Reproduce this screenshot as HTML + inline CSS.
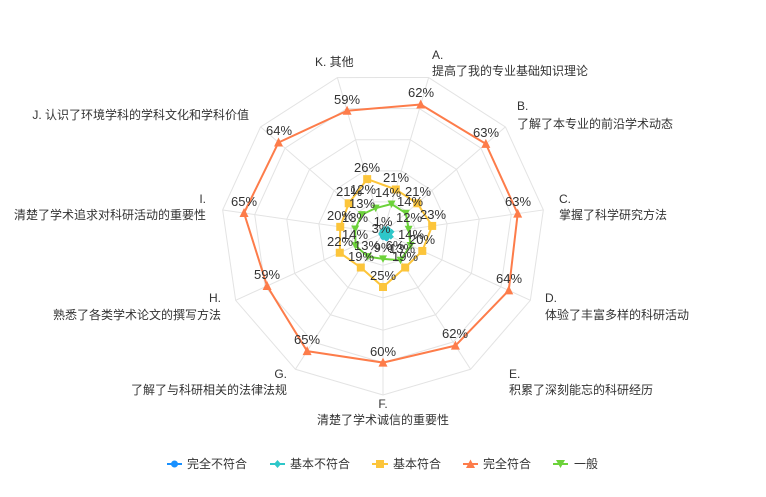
<!DOCTYPE html>
<html><head><meta charset="utf-8">
<style>
html,body{margin:0;padding:0;background:#fff;}
svg{display:block;font-family:"Liberation Sans","Noto Sans CJK SC",sans-serif;}
.n{font-size:12px;fill:#333;}
.v{font-size:13px;fill:#333;text-anchor:middle;}
.lg{font-size:12px;fill:#333;}
</style></head><body>
<svg id="s" width="766" height="497" viewBox="0 0 766 497" xmlns="http://www.w3.org/2000/svg">
<g id="grid"></g>
<g id="series"></g>
<g id="labels">
<text class="v" x="421" y="97">62%</text>
<text class="v" x="486" y="137">63%</text>
<text class="v" x="518" y="206">63%</text>
<text class="v" x="509" y="283">64%</text>
<text class="v" x="455" y="338">62%</text>
<text class="v" x="383" y="356">60%</text>
<text class="v" x="307" y="344">65%</text>
<text class="v" x="267" y="279">59%</text>
<text class="v" x="244" y="206">65%</text>
<text class="v" x="279" y="135">64%</text>
<text class="v" x="347" y="104">59%</text>
<text class="v" x="396" y="182">21%</text>
<text class="v" x="418" y="196">21%</text>
<text class="v" x="433" y="219">23%</text>
<text class="v" x="422" y="244">20%</text>
<text class="v" x="405" y="261">19%</text>
<text class="v" x="383" y="280">25%</text>
<text class="v" x="361" y="261">19%</text>
<text class="v" x="340" y="246">22%</text>
<text class="v" x="340" y="220">20%</text>
<text class="v" x="349" y="196">21%</text>
<text class="v" x="367" y="172">26%</text>
<text class="v" x="388" y="197">14%</text>
<text class="v" x="410" y="206">14%</text>
<text class="v" x="409" y="222">12%</text>
<text class="v" x="411" y="239">14%</text>
<text class="v" x="402" y="253">13%</text>
<text class="v" x="383" y="252">9%</text>
<text class="v" x="367" y="250">13%</text>
<text class="v" x="355" y="239">14%</text>
<text class="v" x="355" y="222">13%</text>
<text class="v" x="362" y="208">13%</text>
<text class="v" x="363" y="194">12%</text>
<text class="v" x="383" y="226">1%</text>
<text class="v" x="381" y="233">3%</text>
<text class="v" x="395" y="250">6%</text>
</g>
<g id="names">
<text class="n" x="315" y="66">K. 其他</text>
<text class="n" x="432" y="59">A.</text>
<text class="n" x="432" y="75">提高了我的专业基础知识理论</text>
<text class="n" x="517" y="110">B.</text>
<text class="n" x="517" y="128">了解了本专业的前沿学术动态</text>
<text class="n" x="559" y="203">C.</text>
<text class="n" x="559" y="219">掌握了科学研究方法</text>
<text class="n" x="545" y="302">D.</text>
<text class="n" x="545" y="319">体验了丰富多样的科研活动</text>
<text class="n" x="509" y="378">E.</text>
<text class="n" x="509" y="394">积累了深刻能忘的科研经历</text>
<text class="n" x="383" y="408" text-anchor="middle">F.</text>
<text class="n" x="383" y="424" text-anchor="middle">清楚了学术诚信的重要性</text>
<text class="n" x="287" y="378" text-anchor="end">G.</text>
<text class="n" x="287" y="394" text-anchor="end">了解了与科研相关的法律法规</text>
<text class="n" x="221" y="302" text-anchor="end">H.</text>
<text class="n" x="221" y="319" text-anchor="end">熟悉了各类学术论文的撰写方法</text>
<text class="n" x="206" y="203" text-anchor="end">I.</text>
<text class="n" x="206" y="219" text-anchor="end">清楚了学术追求对科研活动的重要性</text>
<text class="n" x="249" y="119" text-anchor="end">J. 认识了环境学科的学科文化和学科价值</text>
</g>
<g id="legend">
<line x1="167" y1="464" x2="182" y2="464" stroke="#1890ff" stroke-width="2"/><circle cx="174.5" cy="464" r="3.5" fill="#1890ff"/>
<text class="lg" x="187" y="468">完全不符合</text>
<line x1="270" y1="464" x2="285" y2="464" stroke="#2ec7c9" stroke-width="2"/><path d="M277.5 460 L281 464 L277.5 468 L274 464Z" fill="#2ec7c9"/>
<text class="lg" x="290" y="468">基本不符合</text>
<line x1="372" y1="464" x2="388" y2="464" stroke="#fcc53b" stroke-width="2"/><rect x="376" y="460" width="8" height="8" fill="#fcc53b"/>
<text class="lg" x="393" y="468">基本符合</text>
<line x1="463" y1="464" x2="478" y2="464" stroke="#fd7c4a" stroke-width="2"/><path d="M470.5 459.5 L475 468 L466 468Z" fill="#fd7c4a"/>
<text class="lg" x="483" y="468">完全符合</text>
<line x1="553" y1="464" x2="568" y2="464" stroke="#6cd23a" stroke-width="2"/><path d="M556 460 L565 460 L560.5 468Z" fill="#6cd23a"/>
<text class="lg" x="574" y="468">一般</text>
</g>
</svg>
<script>
(function(){
var NS="http://www.w3.org/2000/svg",cx=383,cy=233,R=162,MAX=75,N=11;
function ang(i){return (73.64-i*360/N)*Math.PI/180;}
function pt(i,r){return [cx+r*Math.cos(ang(i)),cy-r*Math.sin(ang(i))];}
function el(t,a,p){var e=document.createElementNS(NS,t);for(var k in a)e.setAttribute(k,a[k]);p.appendChild(e);return e;}
var g=document.getElementById('grid');
for(var l=1;l<=5;l++){var ps=[];for(var i=0;i<N;i++){ps.push(pt(i,R*l/5).join(','));}
el('polygon',{points:ps.join(' '),fill:'none',stroke:'#e3e3e3','stroke-width':1},g);}
for(var i=0;i<N;i++){var p=pt(i,R);el('line',{x1:cx,y1:cy,x2:p[0],y2:p[1],stroke:'#e3e3e3','stroke-width':1},g);}
var s=document.getElementById('series');
var data=[
{c:'#1890ff',v:[1,2,3,3,3,2,1,0.5,0.5,0.5,0.5],m:'circle'},
{c:'#2ec7c9',v:[2,3,4,4,3,2,1,1,0.5,0.5,1],m:'diamond'},
{c:'#6cd23a',v:[14,14,12,14,15,12,13,14,13,13,12],m:'tdown'},
{c:'#fcc53b',v:[21,21,23,20,19,25,19,22,20,21,26],m:'square'},
{c:'#fd7c4a',v:[62,63,63,64,62,60,65,59,65,64,59],m:'tup'}];
data.forEach(function(d){
 var ps=d.v.map(function(v,i){return pt(i,v/MAX*R);});
 el('polygon',{points:ps.map(function(p){return p.join(',')}).join(' '),fill:(d.m=='circle'||d.m=='diamond')?d.c:'none',stroke:d.c,'stroke-width':2,'stroke-linejoin':'round'},s);
 ps.forEach(function(p){var x=p[0],y=p[1];
  if(d.m=='circle')el('circle',{cx:x,cy:y,r:2.5,fill:d.c},s);
  else if(d.m=='diamond')el('path',{d:'M'+x+' '+(y-3)+'L'+(x+3)+' '+y+'L'+x+' '+(y+3)+'L'+(x-3)+' '+y+'Z',fill:d.c},s);
  else if(d.m=='square')el('rect',{x:x-4,y:y-4,width:8,height:8,fill:d.c},s);
  else if(d.m=='tup')el('path',{d:'M'+x+' '+(y-5)+'L'+(x+4.5)+' '+(y+4)+'L'+(x-4.5)+' '+(y+4)+'Z',fill:d.c},s);
  else el('path',{d:'M'+(x-4)+' '+(y-3.5)+'L'+(x+4)+' '+(y-3.5)+'L'+x+' '+(y+4)+'Z',fill:d.c},s);
 });
});
})();
</script>
</body></html>
